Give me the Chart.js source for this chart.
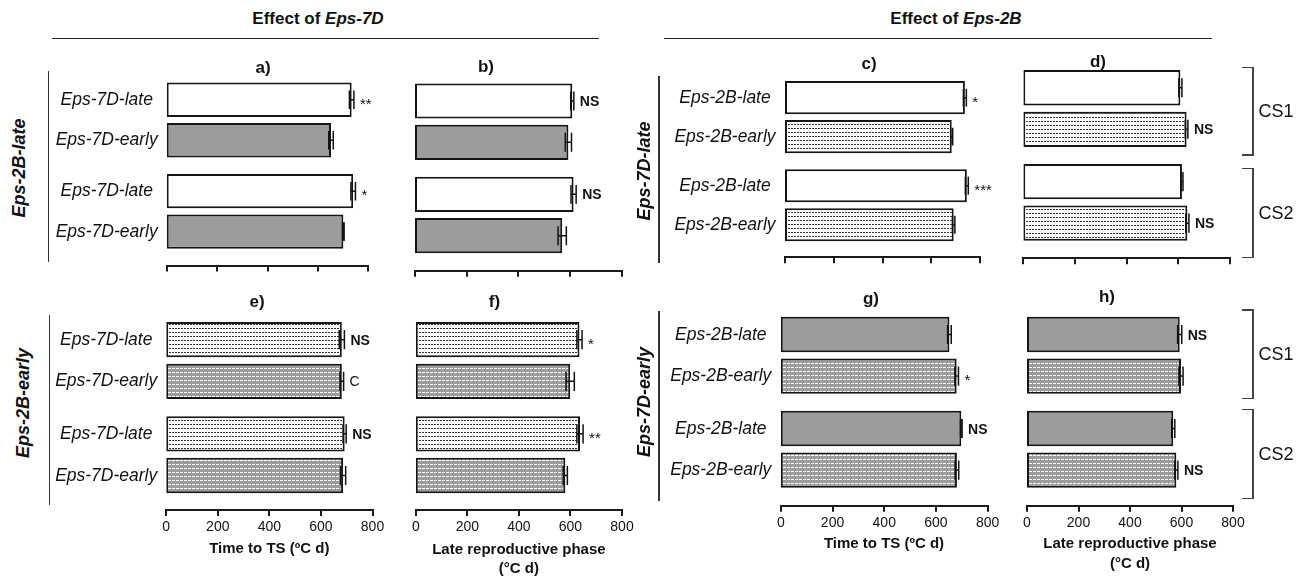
<!DOCTYPE html>
<html>
<head>
<meta charset="utf-8">
<script src="https://cdn.jsdelivr.net/npm/chart.js@4.4.0/dist/chart.umd.min.js"></script>
<style>
  body { margin: 0; background: #fff; }
  #wrap { position: relative; width: 1309px; height: 578px; overflow: hidden;
          font-family: 'Liberation Sans', Arial, sans-serif; color: #111; }
  .txt { position: absolute; white-space: nowrap; transform: translate(-50%, -50%); line-height: 1; }
  .mark { position: absolute; white-space: nowrap; transform: translate(0, -50%); line-height: 1; }
  .ln { position: absolute; }
  canvas { position: absolute; }
</style>
</head>
<body>
<div id="wrap"></div>
<script>
const FONT = "'Liberation Sans', Arial, sans-serif";

// categories and tick labels
const groups = ['CS1', 'CS2'];
const rows7D = ['Eps-7D-late', 'Eps-7D-early'];
const rows2B = ['Eps-2B-late', 'Eps-2B-early'];
const xTicks = [0, 200, 400, 600, 800];

// order in every panel: late CS1, early CS1, late CS2, early CS2
const aVals = [734, 652, 740, 701];
const aErrs = [9, 9, 9, 3];
const aMarks = ['**', '', '*', ''];
const bVals = [609, 594, 614, 570];
const bErrs = [6, 12, 10, 16];
const bMarks = ['NS', '', 'NS', ''];
const cVals = [738, 684, 746, 692];
const cErrs = [6, 4, 6, 5];
const cMarks = ['*', '', '***', ''];
const dVals = [608, 632, 614, 635];
const dErrs = [6, 5, 4, 6];
const dMarks = ['', 'NS', '', 'NS'];
const eVals = [681, 681, 692, 686];
const eErrs = [10, 7, 6, 10];
const eMarks = ['NS', 'C', 'NS', ''];
const fVals = [635, 599, 637, 580];
const fErrs = [10, 16, 12, 8];
const fMarks = ['*', '', '**', ''];
const gVals = [652, 680, 698, 681];
const gErrs = [7, 7, 3, 7];
const gMarks = ['', '*', 'NS', ''];
const hVals = [593, 598, 568, 580];
const hErrs = [8, 8, 6, 6];
const hMarks = ['NS', '', '', 'NS'];

const wrap = document.getElementById('wrap');

function addText(html, x, y, css, cls) {
    const d = document.createElement('div');
    d.className = cls || 'txt';
    d.innerHTML = html;
    d.style.left = x + 'px';
    d.style.top = y + 'px';
    Object.assign(d.style, css || {});
    wrap.appendChild(d);
    return d;
}

function addLine(x1, y1, x2, y2, w, color) {
    const d = document.createElement('div');
    d.className = 'ln';
    d.style.background = color;
    if (y1 === y2) {
        d.style.left = x1 + 'px'; d.style.top = (y1 - w / 2) + 'px';
        d.style.width = (x2 - x1) + 'px'; d.style.height = w + 'px';
    } else {
        d.style.left = (x1 - w / 2) + 'px'; d.style.top = y1 + 'px';
        d.style.width = w + 'px'; d.style.height = (y2 - y1) + 'px';
    }
    wrap.appendChild(d);
}

function makePattern(bg, fg, tw, th, cells) {
    const c = document.createElement('canvas');
    c.width = tw; c.height = th;
    const x = c.getContext('2d');
    x.fillStyle = bg; x.fillRect(0, 0, tw, th);
    x.fillStyle = fg;
    cells.forEach(p => x.fillRect(p[0], p[1], 1, 1));
    return x.createPattern(c, 'repeat');
}

const fills = {
    white: '#ffffff',
    gray: '#9c9c9c',
    whiteDots: makePattern('#ffffff', '#333333', 3, 4, [[0, 1], [1, 1]]),
    grayDots: makePattern('#9c9c9c', '#ffffff', 4, 4, [[0, 1], [1, 1], [2, 1]])
};

// error bars drawn from the x scale
const errorBars = {
    id: 'errorBars',
    afterDatasetsDraw(chart) {
        const ctx = chart.ctx, xs = chart.scales.x;
        chart.data.datasets.forEach((ds, k) => {
            chart.getDatasetMeta(k).data.forEach((bar, j) => {
                const v = ds.data[j], e = ds.errs[j];
                const x1 = xs.getPixelForValue(v - e), x2 = xs.getPixelForValue(v + e);
                const h = bar.height * 0.27;
                ctx.save();
                ctx.strokeStyle = '#111';
                ctx.lineWidth = 1.5;
                ctx.beginPath();
                ctx.moveTo(x1, bar.y); ctx.lineTo(x2, bar.y);
                ctx.moveTo(x1, bar.y - h); ctx.lineTo(x1, bar.y + h);
                ctx.moveTo(x2, bar.y - h); ctx.lineTo(x2, bar.y + h);
                ctx.stroke();
                ctx.restore();
            });
        });
    }
};

const panels = [
    { vals: aVals, errs: aErrs, marks: aMarks, rows: rows7D, fills: ['white', 'gray'], showRows: true, showTicks: false,
      left: 166.7, right: 368.3, top: 74.3, bottom: 257.1, axisY: 265.5 },
    { vals: bVals, errs: bErrs, marks: bMarks, rows: rows7D, fills: ['white', 'gray'], showRows: false, showTicks: false,
      left: 415, right: 621.6, top: 75, bottom: 261.7, axisY: 270.7 },
    { vals: cVals, errs: cErrs, marks: cMarks, rows: rows2B, fills: ['white', 'whiteDots'], showRows: true, showTicks: false,
      left: 785, right: 980, top: 73.1, bottom: 249.3, axisY: 257.3 },
    { vals: dVals, errs: dErrs, marks: dMarks, rows: rows2B, fills: ['white', 'whiteDots'], showRows: false, showTicks: false,
      left: 1023.3, right: 1230, top: 61.6, bottom: 249.3, axisY: 258.3 },
    { vals: eVals, errs: eErrs, marks: eMarks, rows: rows7D, fills: ['whiteDots', 'grayDots'], showRows: true, showTicks: true,
      left: 166.2, right: 372.5, top: 313.4, bottom: 501.8, axisY: 510 },
    { vals: fVals, errs: fErrs, marks: fMarks, rows: rows7D, fills: ['whiteDots', 'grayDots'], showRows: false, showTicks: true,
      left: 415.8, right: 622, top: 313.4, bottom: 501.8, axisY: 510 },
    { vals: gVals, errs: gErrs, marks: gMarks, rows: rows2B, fills: ['gray', 'grayDots'], showRows: true, showTicks: true,
      left: 780.8, right: 987.7, top: 308.3, bottom: 496.3, axisY: 505.7 },
    { vals: hVals, errs: hErrs, marks: hMarks, rows: rows2B, fills: ['gray', 'grayDots'], showRows: false, showTicks: true,
      left: 1027, right: 1233, top: 308.3, bottom: 496.3, axisY: 505.7 }
];

function buildPanel(p) {
    const axisH = 36;
    const gap = p.axisY - p.bottom;
    const cl = Math.round(p.left - 30), ct = Math.round(p.top - 6);
    const padL = p.left - cl, padT = p.top - ct;
    const w = Math.round(p.right + 30) - cl;
    const padR = w - (p.right - cl);
    const h = Math.round(p.axisY + axisH + 6) - ct;
    const padBot = h - (p.axisY - ct) - axisH;
    const cv = document.createElement('canvas');
    cv.width = w; cv.height = h;
    cv.style.left = cl + 'px'; cv.style.top = ct + 'px';
    cv.style.width = w + 'px'; cv.style.height = h + 'px';
    wrap.appendChild(cv);

    const datasets = [0, 1].map(k => ({
        label: p.rows[k],
        data: [p.vals[k], p.vals[k + 2]],
        errs: [p.errs[k], p.errs[k + 2]],
        backgroundColor: fills[p.fills[k]],
        borderColor: '#151515',
        borderWidth: 2,
        borderSkipped: false,
        barPercentage: 0.85,
        categoryPercentage: 0.885
    }));

    const chart = new Chart(cv, {
        type: 'bar',
        data: { labels: groups, datasets: datasets },
        options: {
            indexAxis: 'y',
            responsive: false,
            animation: false,
            devicePixelRatio: 1,
            layout: { padding: { left: padL, right: padR, top: padT, bottom: padBot } },
            plugins: { legend: { display: false }, tooltip: { enabled: false } },
            scales: {
                y: { display: false },
                // value scale of the bars; only leaves the small offset before the drawn axis
                x: {
                    min: 0, max: 800, position: 'bottom', weight: 0,
                    afterFit: s => { s.height = gap; },
                    border: { display: false },
                    grid: { display: false },
                    ticks: { display: false }
                },
                // the visible axis, same 0-800 range
                x2: {
                    type: 'linear', min: 0, max: 800, position: 'bottom', weight: 1,
                    afterFit: s => { s.height = axisH; },
                    afterBuildTicks: s => { s.ticks = xTicks.map(v => ({ value: v })); },
                    border: { display: true, width: 2, color: '#1a1a1a' },
                    grid: { display: true, drawOnChartArea: false, drawTicks: true, tickLength: 6,
                            tickWidth: 2, tickColor: '#1a1a1a', lineWidth: 2, color: '#1a1a1a' },
                    ticks: { display: p.showTicks, padding: 3, color: '#111', maxRotation: 0,
                             font: { family: FONT, size: 14 } }
                }
            }
        },
        plugins: [errorBars]
    });

    // row labels and significance marks
    const xs = chart.scales.x;
    datasets.forEach((ds, k) => {
        chart.getDatasetMeta(k).data.forEach((bar, j) => {
            const y = ct + bar.y;
            if (p.showRows) {
                addText(ds.label, p.left - 60, y, { fontSize: '17.5px', fontStyle: 'italic' });
            }
            const m = p.marks[j * 2 + k];
            if (m) {
                const xe = cl + xs.getPixelForValue(ds.data[j] + ds.errs[j]) + 6;
                const star = m.indexOf('*') >= 0;
                addText(m, xe, y + (star ? 3 : 0), {
                    fontSize: star ? '15px' : '14px',
                    fontWeight: m === 'NS' ? 'bold' : 'normal'
                }, 'mark');
            }
        });
    });
    return chart;
}

panels.forEach(buildPanel);

// headings
addText('Effect of <i>Eps-7D</i>', 318, 18, { fontSize: '17px', fontWeight: 'bold' });
addText('Effect of <i>Eps-2B</i>', 956, 18, { fontSize: '17px', fontWeight: 'bold' });
addLine(52, 38.3, 598.5, 38.3, 1.3, '#222');
addLine(663.5, 38.3, 1211.7, 38.3, 1.3, '#222');

// panel letters
const letters = [['a)', 263, 67], ['b)', 486, 66], ['c)', 869, 62.5], ['d)', 1098, 61],
                 ['e)', 257, 300.7], ['f)', 494.5, 300.7], ['g)', 871, 298], ['h)', 1107, 296]];
letters.forEach(l => addText(l[0], l[1], l[2], { fontSize: '17px', fontWeight: 'bold' }));

// side group labels and lines
const sideLabels = [['Eps-2B-late', 19, 168.3], ['Eps-2B-early', 23, 403],
                    ['Eps-7D-late', 644, 170.7], ['Eps-7D-early', 644, 401.7]];
sideLabels.forEach(s => addText(s[0], s[1], s[2], {
    fontSize: '18px', fontWeight: 'bold', fontStyle: 'italic',
    transform: 'translate(-50%, -50%) rotate(-90deg)'
}));
addLine(48.4, 71, 48.4, 261.7, 1.5, '#333');
addLine(49.7, 315, 49.7, 505, 1.5, '#333');
addLine(659, 76, 659, 263.3, 1.5, '#333');
addLine(659, 310.7, 659, 500.7, 1.5, '#333');

// CS brackets
const brackets = [[67.3, 155], [168.3, 257.3], [310, 398.3], [409.3, 498.3]];
brackets.forEach((b, i) => {
    addLine(1253, b[0], 1253, b[1], 1.5, '#444');
    addLine(1242.4, b[0], 1253.7, b[0], 1.5, '#444');
    addLine(1242.4, b[1], 1253.7, b[1], 1.5, '#444');
    addText(groups[i % 2], 1276, (b[0] + b[1]) / 2, { fontSize: '18px' });
});

// axis titles
const axTitle = { fontSize: '15px', fontWeight: 'bold' };
addText('Time to TS (ºC d)', 269.3, 546.7, axTitle);
addText('Late reproductive phase', 518.9, 548.3, axTitle);
addText('(°C d)', 518.9, 567.3, axTitle);
addText('Time to TS (ºC d)', 884, 541.7, axTitle);
addText('Late reproductive phase', 1130, 542.3, axTitle);
addText('(°C d)', 1130, 562.3, axTitle);
</script>
</body>
</html>
